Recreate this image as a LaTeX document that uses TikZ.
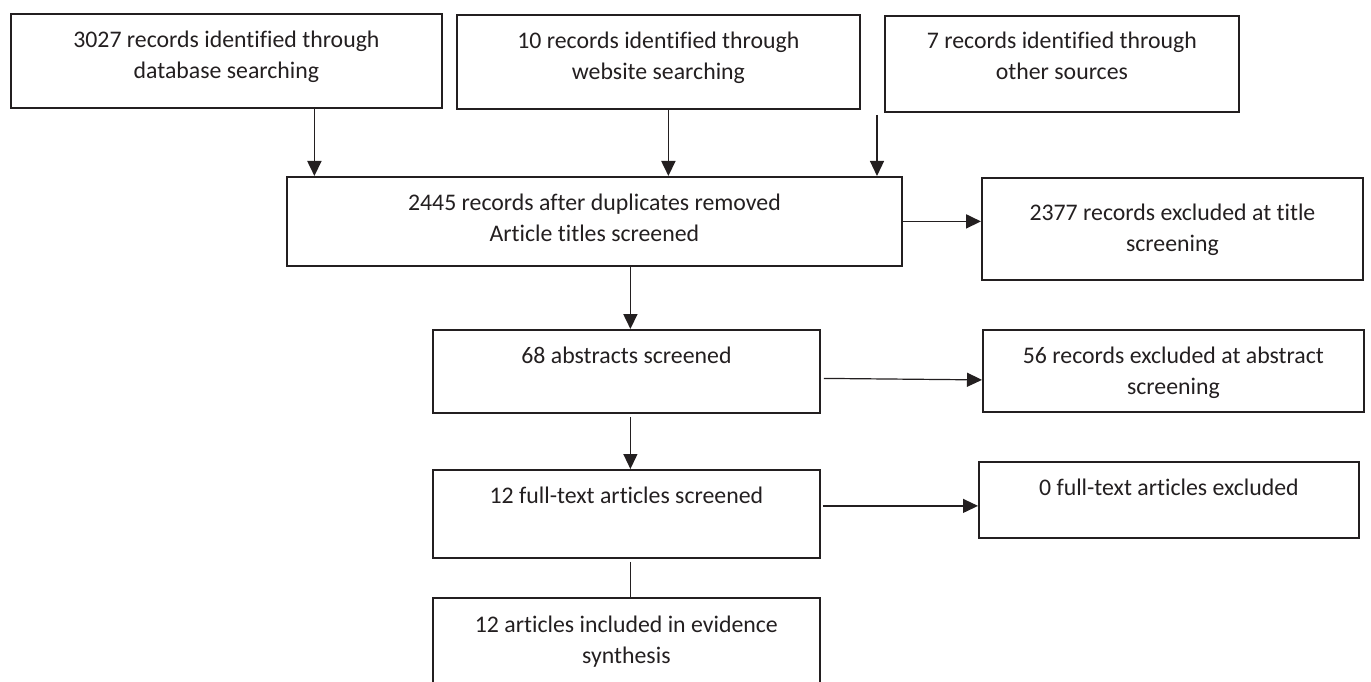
\documentclass[tikz,border=0pt]{standalone}
\usepackage{fontspec}
\setmainfont{Carlito}[Ligatures={NoCommon}]
\usetikzlibrary{arrows.meta}
\usetikzlibrary{positioning}
\definecolor{ink}{HTML}{231F20}
\tikzset{
flowbox/.style={draw=ink, line width=1.8pt, inner sep=0pt, anchor=north west},
boxtext/.style={text=ink, align=center, inner sep=0pt, anchor=north,
    font=\fontsize{23.8pt}{30.5pt}\selectfont},
arr/.style={draw=ink, line width=1.8pt, -{Triangle[length=15pt,width=14pt]}},
thinarr/.style={arr, line width=1.2pt}}

\begin{document}
\begin{tikzpicture}[x=1pt,y=-1pt]
\clip (0,0) rectangle (1371,682);

                \node[flowbox, minimum width=431pt, minimum height=94pt] (db) at (10,13) {};
                \node[flowbox, minimum width=403pt, minimum height=94pt] (web) at (456,14) {};
                \node[flowbox, minimum width=354pt, minimum height=96pt] (oth) at (884,15) {};
                \node[flowbox, minimum width=615pt, minimum height=89pt] (dup) at (286,176) {};
                \node[flowbox, minimum width=381pt, minimum height=102pt] (extt) at (981,177) {};
                \node[flowbox, minimum width=387pt, minimum height=83pt] (abs) at (432,329) {};
                \node[flowbox, minimum width=381pt, minimum height=82pt] (exab) at (982,329) {};
                \node[flowbox, minimum width=387pt, minimum height=88pt] (full) at (432,469) {};
                \node[flowbox, minimum width=380pt, minimum height=76pt] (exf) at (978,461) {};
                \node[flowbox, minimum width=387pt, minimum height=110pt] (incl) at (432,597) {};
                \coordinate (othtail) at (877,115);

                \node[boxtext, below=18pt of db.north] (dbtext) {3027 records identified through\\database searching};
                \node[boxtext, below=18pt of web.north] (webtext) {10 records identified through\\website searching};
                \node[boxtext, below=17pt of oth.north] (othtext) {7 records identified through\\other sources};
                \node[boxtext, below=18pt of dup.north] (duptext) {2445 records after duplicates removed\\Article titles screened};
                \node[boxtext, below=27pt of extt.north] (exttext) {2377 records excluded at title\\screening};
                \node[boxtext, below=18pt of abs.north] (abstext) {68 abstracts screened};
                \node[boxtext, below=18pt of exab.north] (exabtext) {56 records excluded at abstract\\screening};
                \node[boxtext, below=18pt of full.north] (fulltext) {12 full-text articles screened};
                \node[boxtext, below=18pt of exf.north] (exftext) {0 full-text articles excluded};
                \node[boxtext, below=19pt of incl.north] (incltext) {12 articles included in evidence\\synthesis};

                \draw[arr] ([xshift=88pt]db.south) -- ([xshift=88pt]db.south |- dup.north);
                \draw[arr] ([xshift=10pt]web.south) -- ([xshift=10pt]web.south |- dup.north);
                \draw[thinarr] (othtail) -- (othtail |- dup.north);
                \draw[arr] (dup.east) -- (dup.east -| extt.west);
                \draw[arr] ([xshift=4pt]abs.north |- dup.south) -- ([xshift=4pt]abs.north);
                \draw[thinarr] ([xshift=3pt,yshift=-7pt]abs.east) -- ([yshift=-9pt]exab.west);
                \draw[thinarr] ([xshift=4pt,yshift=-3pt]abs.south) -- ([xshift=4pt]full.north);
                \draw[thinarr] ([xshift=2pt,yshift=8pt]full.east) -- ([yshift=-6pt]exf.west);
                \draw[ink, line width=1.5pt] ([xshift=4pt,yshift=-3pt]full.south) -- ([xshift=4pt]incl.north);

\end{tikzpicture}
\end{document}
